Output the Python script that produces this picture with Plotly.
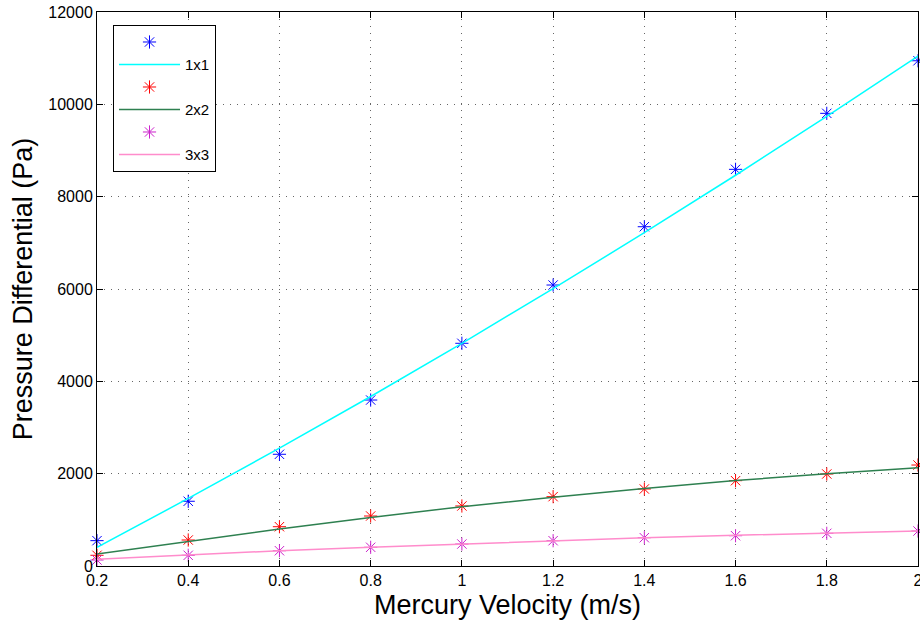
import plotly.graph_objects as go

velocity = [0.2, 0.4, 0.6, 0.8, 1.0, 1.2, 1.4, 1.6, 1.8, 2.0]

data_1x1 = [549, 1402, 2420, 3595, 4824, 6086, 7349, 8592, 9805, 10944]
fit_1x1 = [405, 1463, 2553, 3672, 4824, 6007, 7219, 8464, 9739, 11046]

data_2x2 = [232, 563, 851, 1083, 1300, 1502, 1668, 1848, 1993, 2187]
fit_2x2 = [260, 535, 800, 1050, 1285, 1490, 1680, 1850, 2000, 2130]

data_3x3 = [130, 232, 331, 405, 476, 548, 613, 656, 708, 758]
fit_3x3 = [145, 240, 330, 405, 475, 545, 610, 665, 715, 760]

labels = ["1x1", "2x2", "3x3"]
star_colors = ["#0000ff", "#ff0000", "#cc22cc"]
line_colors = ["#00ffff", "#2e8050", "#ff8ccc"]

x_ticks = [0.2, 0.4, 0.6, 0.8, 1.0, 1.2, 1.4, 1.6, 1.8, 2.0]
x_tick_text = ["0.2", "0.4", "0.6", "0.8", "1", "1.2", "1.4", "1.6", "1.8", "2"]
y_ticks = [0, 2000, 4000, 6000, 8000, 10000, 12000]
y_tick_text = ["0", "2000", "4000", "6000", "8000", "10000", "12000"]

FONT = "Liberation Sans, Arial, sans-serif"

fig = go.Figure()
for pts, fit, lab, sc, lc in zip([data_1x1, data_2x2, data_3x3],
                                 [fit_1x1, fit_2x2, fit_3x3],
                                 labels, star_colors, line_colors):
    fig.add_trace(go.Scatter(
        x=velocity, y=pts, mode="markers", name=" ",
        marker=dict(symbol="asterisk-open", size=11, color=sc,
                    line=dict(color=sc, width=1)),
        cliponaxis=False))
    fig.add_trace(go.Scatter(
        x=velocity, y=fit, mode="lines", name=lab,
        line=dict(color=lc, width=1.5)))

axis_common = dict(
    showline=True, linecolor="black", linewidth=1, mirror="ticks",
    ticks="inside", ticklen=6, tickcolor="black", tickwidth=1,
    showgrid=True, gridcolor="#666666", griddash="1px,6px", gridwidth=1,
    zeroline=False, automargin=False, ticklabeloverflow="allow",
    tickfont=dict(family=FONT, size=16, color="black"),
)

fig.update_xaxes(range=[0.2, 2.0], tickvals=x_ticks, ticktext=x_tick_text,
                 title=dict(text="Mercury Velocity (m/s)", standoff=6,
                            font=dict(family=FONT, size=27, color="black")),
                 **axis_common)
fig.update_yaxes(range=[0, 12000], tickvals=y_ticks, ticktext=y_tick_text,
                 title=dict(text="Pressure Differential (Pa)", standoff=7,
                            font=dict(family=FONT, size=27, color="black")),
                 **axis_common)

fig.update_layout(
    width=920, height=622,
    margin=dict(l=97, r=2, t=12, b=56),
    paper_bgcolor="white", plot_bgcolor="white",
    font=dict(family=FONT, color="black"),
    legend=dict(x=0.0195, y=0.977, xanchor="left", yanchor="top",
                bgcolor="white", bordercolor="black", borderwidth=1,
                font=dict(size=15, color="black"), tracegroupgap=0,
                itemwidth=61),
    showlegend=True,
)

fig.write_html("out.html", config={"displayModeBar": False},
               post_script="document.body.style.margin='0';document.body.style.overflow='hidden';")
